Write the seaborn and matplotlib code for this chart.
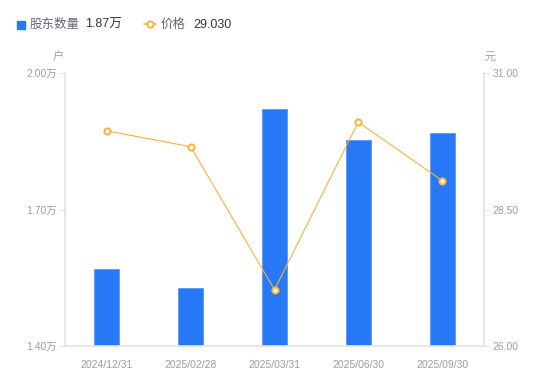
import matplotlib
matplotlib.use("Agg")
import matplotlib.pyplot as plt
import seaborn as sns
import pandas as pd
from matplotlib.lines import Line2D

dates = ["2024/12/31", "2025/02/28", "2025/03/31", "2025/06/30", "2025/09/30"]
holders = [1.569, 1.527, 1.921, 1.853, 1.868]   # 万户
prices = [29.94, 29.65, 27.03, 30.10, 29.03]    # 元
left_ticks = [1.40, 1.70, 2.00]
right_ticks = [26.00, 28.50, 31.00]

sns.set_theme(style="white")
plt.rcParams['font.family'] = ['Liberation Sans', 'Noto Sans CJK SC', 'DejaVu Sans']

df = pd.DataFrame({"date": dates, "holders": holders, "price": prices})

BLUE = "#2778F5"
ORANGE = "#F7B23B"
GRAY = "#9A9CAB"
AXC = "#E3E4E8"

fig = plt.figure(figsize=(5.5, 3.81), dpi=100)
ax = fig.add_axes([65/550, 35/381, 419/550, 273/381])

sns.barplot(data=df, x="date", y="holders", ax=ax, color=BLUE, width=0.3,
            saturation=1, edgecolor="#5A98F8", linewidth=0.6)
ax.set_ylim(1.40, 2.00)
ax.set_xlim(-0.5, 4.5)
ax.set_yticks(left_ticks)
ax.set_yticklabels([f"{v:.2f}万" for v in left_ticks])
ax.set_xlabel("")
ax.set_ylabel("")

ax2 = ax.twinx()
sns.pointplot(data=df, x="date", y="price", ax=ax2, color=ORANGE,
              markers="o", linestyles="-", errorbar=None)
for l in ax2.lines:
    l.set_linewidth(0.8)
    l.set_markersize(4.5)
    l.set_markerfacecolor("white")
    l.set_markeredgecolor(ORANGE)
    l.set_markeredgewidth(1.4)
for c in ax2.collections:
    c.set_sizes([22])
    c.set_facecolor("white")
    c.set_edgecolor(ORANGE)
    c.set_linewidth(1.4)
ax2.set_ylim(26.0, 31.0)
ax2.set_xlim(-0.5, 4.5)
ax2.set_yticks(right_ticks)
ax2.set_yticklabels([f"{v:.2f}" for v in right_ticks])
ax2.set_ylabel("")
ax2.set_xlabel("")

for a in (ax, ax2):
    for s in a.spines.values():
        s.set_visible(False)
ax.spines["left"].set_visible(True)
ax.spines["left"].set_color(AXC)
ax.spines["bottom"].set_visible(True)
ax.spines["bottom"].set_color(AXC)
ax2.spines["right"].set_visible(True)
ax2.spines["right"].set_color(AXC)

ax.tick_params(axis="y", which="both", left=True, length=4, width=0.8, color=AXC,
               labelsize=7.5, labelcolor=GRAY, pad=2)
ax.tick_params(axis="x", bottom=False, labelsize=7.5, labelcolor=GRAY, pad=4)
ax2.tick_params(axis="y", right=True, length=4, width=0.8, color=AXC,
                labelsize=7.5, labelcolor=GRAY, pad=2)
ax.grid(False)
ax2.grid(False)

fig.text(58/550, 1 - 57/381, "户", fontsize=8, color=GRAY, ha="center", va="center")
fig.text(490/550, 1 - 57/381, "元", fontsize=8, color=GRAY, ha="center", va="center")

# legend
fig.patches.append(plt.Rectangle((17/550, 1 - 29/381), 8/550, 8/381,
                                 transform=fig.transFigure, color=BLUE, figure=fig))
fig.text(30/550, 1 - 25/381, "股东数量", fontsize=9, color="#666877", va="center")
fig.text(85/550, 1 - 25/381, "1.87万", fontsize=9, color="#333333", va="center")
fig.lines.append(Line2D([144/550, 156/550], [1 - 24/381, 1 - 24/381], transform=fig.transFigure,
                        color=ORANGE, lw=1.2))
fig.lines.append(Line2D([150/550], [1 - 24/381], transform=fig.transFigure, color=ORANGE,
                        marker="o", markersize=4.5, markerfacecolor="white",
                        markeredgewidth=1.4, linestyle="none"))
fig.text(161/550, 1 - 25/381, "价格", fontsize=9, color="#666877", va="center")
fig.text(193/550, 1 - 25/381, "29.030", fontsize=9, color="#333333", va="center")

fig.savefig("out.png", dpi=100)
